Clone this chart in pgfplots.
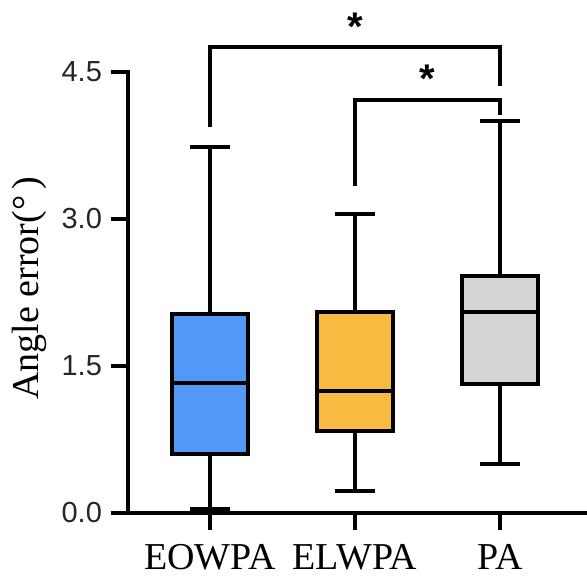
\documentclass[border=0pt]{standalone}
\usepackage{fontspec}
\setmainfont{Liberation Serif}
\newfontfamily\arialf{Liberation Sans}
\usepackage{pgfplots}
\pgfplotsset{compat=1.18}
\usepgfplotslibrary{statistics}
\definecolor{cblue}{RGB}{82,152,247}
\definecolor{corange}{RGB}{248,186,64}
\definecolor{cgray}{RGB}{212,212,212}
\begin{document}
\begin{tikzpicture}
\begin{axis}[
  name=ax,
  scale only axis,
  width=229.5pt, height=220.5pt,
  xmin=0.434, xmax=3.6,
  ymin=0, ymax=4.5,
  clip=false,
  axis x line*=bottom,
  axis y line*=left,
  axis line style={line width=2pt, line cap=rect},
  tick align=outside,
  major tick length=8.5pt,
  tick style={line width=2pt, black},
  xtick={1,2,3},
  xticklabels={EOWPA,ELWPA,PA},
  xticklabel style={font=\fontsize{19}{19}\selectfont, yshift=-3.5pt},
  ytick={0,1.5,3,4.5},
  yticklabel style={font=\arialf\fontsize{14.5}{14.5}\selectfont, text=black!85, xshift=-1pt},
  /pgf/number format/assume math mode=true,
  yticklabel={\pgfmathprintnumber[fixed,fixed zerofill,precision=1]{\tick}},
  ylabel={Angle error(°\,)},
  every axis y label/.style={at={(axis description cs:0,0.51)}, xshift=-37pt, rotate=90, anchor=south, font=\fontsize{19}{19}\selectfont},
  boxplot/draw direction=y,
  boxplot/box extend=0.53,
  boxplot/whisker extend=0.28,
]
\addplot[black, line width=2pt, fill=cblue, boxplot prepared={draw position=1,
  lower whisker=0.04, lower quartile=0.60, median=1.33, upper quartile=2.03, upper whisker=3.73}]
  coordinates {};
\addplot[black, line width=2pt, fill=corange, boxplot prepared={draw position=2,
  lower whisker=0.22, lower quartile=0.84, median=1.245, upper quartile=2.05, upper whisker=3.05}]
  coordinates {};
\addplot[black, line width=2pt, fill=cgray, boxplot prepared={draw position=3,
  lower whisker=0.50, lower quartile=1.32, median=2.05, upper quartile=2.42, upper whisker=4.00}]
  coordinates {};
\addplot[black, line width=2pt, line join=miter] coordinates {(1,3.94) (1,4.755) (3,4.755) (3,4.36)};
\addplot[black, line width=2pt, line join=miter] coordinates {(2,3.34) (2,4.21) (3,4.21) (3,4.06)};
\node[font=\arialf\bfseries\fontsize{20}{20}\selectfont] at (axis cs:2,4.96) {*};
\node[font=\arialf\bfseries\fontsize{20}{20}\selectfont] at (axis cs:2.5,4.43) {*};
\end{axis}
\pgfresetboundingbox
\path ([xshift=-64pt,yshift=-32.5pt]ax.south west) rectangle ([yshift=36pt]ax.north east);
\end{tikzpicture}
\end{document}
